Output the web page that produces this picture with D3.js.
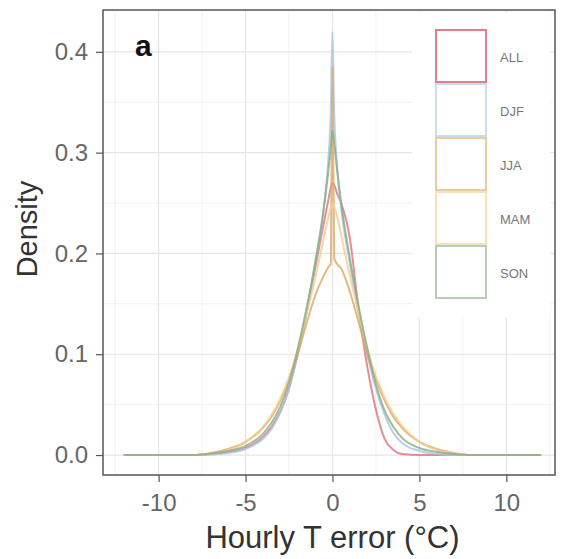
<!DOCTYPE html>
<html>
<head>
<meta charset="utf-8">
<script src="https://cdn.jsdelivr.net/npm/d3@7"></script>
<style>
  body { margin: 0; background: #fff; }
  text { font-family: "Liberation Sans", Arial, sans-serif; }
</style>
</head>
<body>
<div id="chart"></div>
<script>
const errGrid = [-12, -8, -7, -6, -5, -4, -3.5, -3, -2.5, -2, -1.5, -1, -0.5, -0.25, -0.1,
  0, 0.1, 0.25, 0.5, 1, 1.5, 2, 2.5, 3, 3.5, 4, 5, 6, 7, 8, 12];

// densities per season
const allDens = [0, 0, 0.001, 0.003, 0.007, 0.018, 0.028, 0.043, 0.066, 0.1, 0.14, 0.185, 0.23, 0.252, 0.265,
  0.27, 0.268, 0.26, 0.25, 0.215, 0.145, 0.088, 0.045, 0.016, 0.005, 0.001, 0, 0, 0, 0, 0];
const djfDens = [0, 0, 0.0005, 0.002, 0.006, 0.016, 0.026, 0.042, 0.066, 0.1, 0.14, 0.19, 0.245, 0.29, 0.34,
  0.42, 0.34, 0.29, 0.245, 0.19, 0.14, 0.1, 0.066, 0.04, 0.022, 0.012, 0.004, 0.001, 0, 0, 0];
const jjaDens = [0, 0, 0.002, 0.006, 0.013, 0.027, 0.038, 0.054, 0.075, 0.1, 0.13, 0.158, 0.178, 0.186, 0.19,
  0.385, 0.195, 0.19, 0.185, 0.162, 0.132, 0.1, 0.075, 0.054, 0.038, 0.027, 0.013, 0.006, 0.002, 0, 0];
const mamDens = [0, 0, 0.0015, 0.005, 0.013, 0.028, 0.04, 0.056, 0.077, 0.105, 0.14, 0.175, 0.215, 0.235, 0.245,
  0.25, 0.246, 0.238, 0.218, 0.178, 0.142, 0.106, 0.078, 0.057, 0.041, 0.029, 0.013, 0.005, 0.0015, 0, 0];
const sonDens = [0, 0, 0.0015, 0.004, 0.009, 0.021, 0.032, 0.048, 0.072, 0.105, 0.145, 0.19, 0.245, 0.28, 0.305,
  0.322, 0.31, 0.285, 0.25, 0.195, 0.148, 0.106, 0.07, 0.044, 0.028, 0.017, 0.007, 0.003, 0.001, 0, 0];

const seasons = ["ALL", "DJF", "JJA", "MAM", "SON"];
const seasonColors = ["#e0707c", "#a8c4e6", "#dca860", "#f5cc8e", "#86ad84"];
const xTicks = [-10, -5, 0, 5, 10];
const yTicks = [0, 0.1, 0.2, 0.3, 0.4];

const series = [allDens, djfDens, jjaDens, mamDens, sonDens].map((vals, i) => ({
  name: seasons[i],
  points: errGrid.map((e, j) => ({ x: e, y: vals[j] }))
}));

const W = 561, H = 559;
const panel = { left: 103, right: 555, top: 10, bottom: 475 };

const svg = d3.select("#chart").append("svg")
  .attr("width", W)
  .attr("height", H);

const x = d3.scaleLinear().domain([-13.2, 12.8]).range([panel.left, panel.right]);
const y = d3.scaleLinear().domain([-0.0198, 0.4415]).range([panel.bottom, panel.top]);
const color = d3.scaleOrdinal().domain(seasons).range(seasonColors);

// grid (minor then major)
const grid = svg.append("g");
const xMinor = [-12.5, -7.5, -2.5, 2.5, 7.5, 12.5];
const yMinor = [0.05, 0.15, 0.25, 0.35];
grid.selectAll(".vmin").data(xMinor).join("line")
  .attr("x1", d => x(d)).attr("x2", d => x(d))
  .attr("y1", panel.top).attr("y2", panel.bottom)
  .attr("stroke", "#f1f1f1").attr("stroke-width", 1);
grid.selectAll(".hmin").data(yMinor).join("line")
  .attr("x1", panel.left).attr("x2", panel.right)
  .attr("y1", d => y(d)).attr("y2", d => y(d))
  .attr("stroke", "#f1f1f1").attr("stroke-width", 1);
grid.selectAll(".vmaj").data(xTicks).join("line")
  .attr("x1", d => x(d)).attr("x2", d => x(d))
  .attr("y1", panel.top).attr("y2", panel.bottom)
  .attr("stroke", "#e6e6e6").attr("stroke-width", 1.2);
grid.selectAll(".hmaj").data(yTicks).join("line")
  .attr("x1", panel.left).attr("x2", panel.right)
  .attr("y1", d => y(d)).attr("y2", d => y(d))
  .attr("stroke", "#e6e6e6").attr("stroke-width", 1.2);

// density curves
const line = d3.line()
  .x(d => x(d.x))
  .y(d => y(d.y))
  .curve(d3.curveMonotoneX);

svg.append("g").selectAll("path")
  .data(series)
  .join("path")
  .attr("fill", "none")
  .attr("stroke", d => color(d.name))
  .attr("stroke-width", 2)
  .attr("stroke-opacity", 0.8)
  .attr("d", d => line(d.points));

// legend (white backdrop over the grid)
const lg = svg.append("g");
lg.append("rect")
  .attr("x", 412).attr("y", panel.top + 2)
  .attr("width", 138).attr("height", 306)
  .attr("fill", "#fff");
const ky = d3.scaleBand().domain(seasons).range([29, 299]);
lg.selectAll(".key").data(seasons).join("rect")
  .attr("x", 436)
  .attr("y", d => ky(d) + 1)
  .attr("width", 50)
  .attr("height", ky.bandwidth() - 2)
  .attr("fill", "#fff")
  .attr("stroke", d => color(d))
  .attr("stroke-opacity", d => d === "ALL" ? 0.9 : 0.6)
  .attr("stroke-width", 2);
lg.selectAll(".lab").data(seasons).join("text")
  .attr("x", 500)
  .attr("y", d => ky(d) + ky.bandwidth() / 2 + 6)
  .style("font-size", "13px")
  .attr("fill", "#777")
  .text(d => d);

// panel border
svg.append("rect")
  .attr("x", panel.left).attr("y", panel.top)
  .attr("width", panel.right - panel.left)
  .attr("height", panel.bottom - panel.top)
  .attr("fill", "none")
  .attr("stroke", "#555")
  .attr("stroke-width", 1.5);

// axes
const xAxis = svg.append("g")
  .attr("transform", `translate(0,${panel.bottom})`)
  .call(d3.axisBottom(x).tickValues(xTicks).tickSize(7).tickPadding(12).tickFormat(d => String(d)));
const yAxis = svg.append("g")
  .attr("transform", `translate(${panel.left},0)`)
  .call(d3.axisLeft(y).tickValues(yTicks).tickSize(7).tickPadding(8).tickFormat(d3.format(".1f")));
[xAxis, yAxis].forEach(a => {
  a.select(".domain").remove();
  a.selectAll("line").attr("stroke", "#555").attr("stroke-width", 1.2);
  a.selectAll("text").attr("fill", "#666").style("font-size", "24px")
    .style("font-family", "'Liberation Sans', Arial, sans-serif");
});

// titles
svg.append("text")
  .attr("x", x(0))
  .attr("y", 548)
  .attr("text-anchor", "middle")
  .style("font-size", "31px")
  .attr("fill", "#333")
  .text("Hourly T error (°C)");
svg.append("text")
  .attr("transform", "translate(37,229) rotate(-90)")
  .attr("text-anchor", "middle")
  .style("font-size", "29px")
  .attr("fill", "#333")
  .text("Density");

// panel letter
svg.append("text")
  .attr("x", 135)
  .attr("y", 56)
  .style("font-size", "30px")
  .style("font-weight", "bold")
  .attr("fill", "#111")
  .text("a");
</script>
</body>
</html>
